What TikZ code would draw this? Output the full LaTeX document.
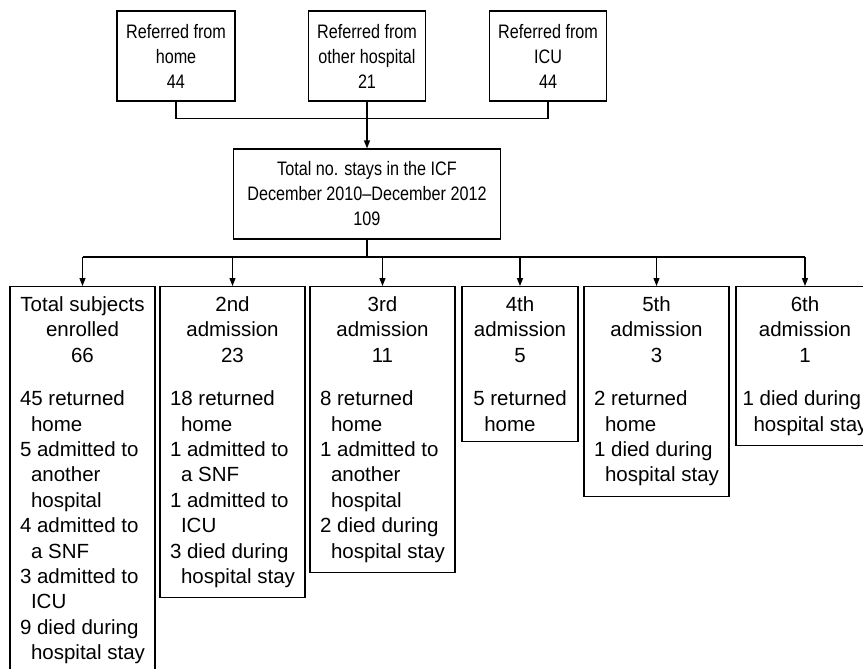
\documentclass[tikz,border=0pt]{standalone}
\usepackage{fontspec}
\setmainfont{Liberation Sans}
\newfontfamily\narrowsf[FakeStretch=0.83,Ligatures=TeX]{Liberation Sans}
\usetikzlibrary{arrows.meta,positioning}
\newcommand\outlist[1]{\vtop{\halign{##\hfil\cr#1\crcr}}}
\newcommand\contline{\hspace*{11pt}}
\begin{document}
\begin{tikzpicture}[x=1pt,y=-1pt,
  line/.style={draw=black,line width=1.2pt},
  arrow/.style={line,-{Triangle[length=8pt,width=6pt]}},
  topbox/.style={line,font=\narrowsf\fontsize{19.5}{25}\selectfont,align=center,minimum height=90pt,inner sep=0pt},
  subbox/.style={line,font=\fontsize{20.5}{25.4}\selectfont,align=center,anchor=north,inner xsep=0pt,inner ysep=10pt},
]
\useasboundingbox (0,0) rectangle (863,669);
\node[topbox,minimum width=118pt] (home) at (176,56) {Referred from\\home\\44};
\node[topbox,minimum width=117pt] (other) at (367,56) {Referred from\\other hospital\\21};
\node[topbox,minimum width=117pt] (icu) at (548,56) {Referred from\\ICU\\44};
\node[topbox,minimum width=267pt] (icf) at (367,194) {Total no. stays in the ICF\\December 2010--December 2012\\109};
\draw[line] (home.south) -- ++(0,17) -| (icu.south);
\draw[arrow] (other.south) -- (icf.north);
\node[subbox,minimum width=145pt] (s1) at (82.5,286) {Total subjects\\enrolled\\66\\[18pt]
  \outlist{45 returned\cr\contline home\cr 5 admitted to\cr\contline another\cr\contline hospital\cr
  4 admitted to\cr\contline a SNF\cr 3 admitted to\cr\contline ICU\cr 9 died during\cr\contline hospital stay}};
\node[subbox,minimum width=145pt] (s2) at (232.5,286) {2nd\\admission\\23\\[18pt]
  \outlist{18 returned\cr\contline home\cr 1 admitted to\cr\contline a SNF\cr 1 admitted to\cr\contline ICU\cr
  3 died during\cr\contline hospital stay}};
\node[subbox,minimum width=145pt] (s3) at (382.5,286) {3rd\\admission\\11\\[18pt]
  \outlist{8 returned\cr\contline home\cr 1 admitted to\cr\contline another\cr\contline hospital\cr
  2 died during\cr\contline hospital stay}};
\node[subbox,minimum width=116pt] (s4) at (520,286) {4th\\admission\\5\\[18pt]
  \outlist{5 returned\cr\contline home}};
\node[subbox,minimum width=145pt] (s5) at (656.5,286) {5th\\admission\\3\\[18pt]
  \outlist{2 returned\cr\contline home\cr 1 died during\cr\contline hospital stay}};
\node[subbox,minimum width=138pt] (s6) at (805,286) {6th\\admission\\1\\[18pt]
  \outlist{1 died during\cr\contline hospital stay}};
\coordinate (bus) at (367,257);
\draw[line] (icf.south) -- (bus);
\draw[line] (s1.north |- bus) -- (s6.north |- bus);
\foreach \n in {s1,s2,s3,s4,s5,s6}{\draw[arrow] (\n.north |- bus) -- (\n.north);}
\end{tikzpicture}
\end{document}
